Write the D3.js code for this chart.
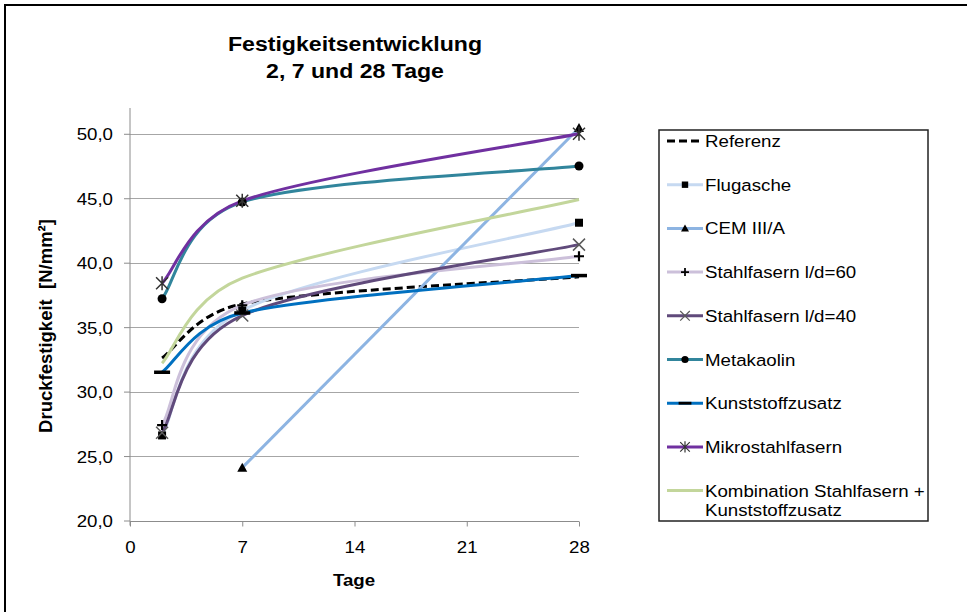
<!DOCTYPE html>
<html><head><meta charset="utf-8">
<script src="https://cdn.jsdelivr.net/npm/d3@7"></script>
<style>
html,body{margin:0;padding:0;background:#fff;}
svg{display:block;font-family:"Liberation Sans",Arial,sans-serif;}
</style></head>
<body>
<svg id="chart" width="967" height="612"></svg>
<script>
// ---- data ----
const days = [2, 7, 28];
const xTicks = [0, 7, 14, 21, 28];
const yTicks = [20, 25, 30, 35, 40, 45, 50];
const seriesNames = ["Referenz", "Flugasche", "CEM III/A", "Stahlfasern l/d=60", "Stahlfasern l/d=40",
  "Metakaolin", "Kunststoffzusatz", "Mikrostahlfasern", "Kombination Stahlfasern +|Kunststoffzusatz"];
const referenz = [32.6, 36.8, 38.9];
const flugasche = [26.6, 36.3, 43.1];
const cem3a = [null, 24.1, 50.45];
const stahl60 = [27.4, 36.7, 40.5];
const stahl40 = [26.8, 35.9, 41.4];
const metakaolin = [37.2, 44.7, 47.5];
const kunststoff = [31.5, 36.1, 39.0];
const mikro = [38.4, 44.8, 50.0];
const kombination = [32.2, 38.8, 44.9];
const seriesValues = [referenz, flugasche, cem3a, stahl60, stahl40, metakaolin, kunststoff, mikro, kombination];

// ---- styles ----
const colors = ["#000000", "#c6d9f1", "#8db4e2", "#ccc0da", "#604a7b", "#31859c", "#0070c0", "#7030a0", "#c3d69b"];
const dashes = ["8,4", null, null, null, null, null, null, null, null];
const markers = [null, "square", "triangle", "plus", "x", "circle", "dash", "asterisk", null];

const svg = d3.select("#chart");
const SX = 1.1; // horizontal text stretch of the reference

function txt(g, x, yv, s, opts) {
  return g.append("text")
    .attr("transform", `translate(${x},${yv}) scale(${SX},1)`)
    .attr("font-size", opts.size || 17)
    .attr("font-weight", opts.bold ? "bold" : "normal")
    .attr("text-anchor", opts.anchor || "start")
    .attr("fill", "#000")
    .text(s);
}

// outer frame
svg.append("rect").attr("x", 5).attr("y", 5).attr("width", 1000).attr("height", 1000)
  .attr("fill", "none").attr("stroke", "#000").attr("stroke-width", 2);

const x = d3.scaleLinear().domain([0, 28]).range([130, 579]);
const y = d3.scaleLinear().domain([20, 52]).range([520.5, 108]);

// gridlines
svg.append("g").selectAll("line").data(yTicks.filter(d => d > 20)).join("line")
  .attr("x1", x(0)).attr("x2", x(28)).attr("y1", d => Math.round(y(d)) + 0.5).attr("y2", d => Math.round(y(d)) + 0.5)
  .attr("stroke", "#a6a6a6").attr("stroke-width", 1);

// y axis
const yAxis = d3.axisLeft(y).tickValues(yTicks).tickSize(6).tickFormat(d => d3.format(".1f")(d).replace(".", ","));
const gy = svg.append("g").attr("transform", `translate(${x(0)},0)`).call(yAxis);
gy.select(".domain").attr("stroke", "#8c8c8c").attr("d", `M0,${y(52)}V${y(20) + 5}`);
gy.selectAll(".tick line").attr("stroke", "#8c8c8c");
gy.selectAll(".tick text").attr("font-size", 17).attr("fill", "#000")
  .attr("font-family", "Liberation Sans, Arial, sans-serif")
  .attr("x", -17 / SX).attr("dy", "0.35em")
  .attr("transform", `scale(${SX},1)`);

// x axis
const xAxis = d3.axisBottom(x).tickValues(xTicks).tickSize(5).tickFormat(d3.format("d"));
const gx = svg.append("g").attr("transform", `translate(0,${Math.round(y(20)) + 0.5})`).call(xAxis);
gx.select(".domain").attr("stroke", "#8c8c8c").attr("d", `M${x(0)},0H${x(28)}`);
gx.selectAll(".tick line").attr("stroke", "#8c8c8c");
gx.selectAll(".tick text").attr("font-size", 17).attr("fill", "#000")
  .attr("font-family", "Liberation Sans, Arial, sans-serif").attr("y", 19).attr("dy", "0.71em")
  .attr("transform", `scale(${SX},1)`);

// marker painter
function drawMarker(g, type, cx, cy, s) {
  s = s || 1;
  const m = g.append("g").attr("transform", `translate(${cx},${cy}) scale(${s})`);
  if (type === "square") m.append("path").attr("d", "M-4,-4h8v8h-8z").attr("fill", "#000");
  else if (type === "triangle") m.append("path").attr("d", "M0,-5L5,4H-5Z").attr("fill", "#000");
  else if (type === "plus") m.append("path").attr("d", "M-5,0H5M0,-5V5").attr("stroke", "#000").attr("stroke-width", 2.2);
  else if (type === "x") m.append("path").attr("d", "M-6,-6L6,6M-6,6L6,-6").attr("stroke", "#5a5a5a").attr("stroke-width", 1.5);
  else if (type === "circle") m.append("circle").attr("r", 4.5).attr("fill", "#000");
  else if (type === "dash") m.append("path").attr("d", "M-8,0H8").attr("stroke", "#000").attr("stroke-width", 3.5);
  else if (type === "asterisk") m.append("path").attr("d", "M-6,-6L6,6M-6,6L6,-6M0,-7V7").attr("stroke", "#333").attr("stroke-width", 1.5);
}

// Excel-like smoothed line through pixel points (positions come from the scales)
function excelSmooth(pts) {
  const n = pts.length;
  if (n === 0) return "";
  let d = `M${pts[0][0]},${pts[0][1]}`;
  if (n === 1) return d;
  if (n === 2) return d + `L${pts[1][0]},${pts[1][1]}`;
  const P = i => pts[Math.max(0, Math.min(n - 1, i))];
  const dist = (a, b) => Math.hypot(a[0] - b[0], a[1] - b[1]);
  for (let i = 0; i < n - 1; i++) {
    const p0 = P(i - 1), p1 = P(i), p2 = P(i + 1), p3 = P(i + 2);
    const d12 = dist(p1, p2), d02 = dist(p0, p2), d13 = dist(p1, p3);
    let f1 = 1 / 6, f2 = 1 / 6;
    if (d02 / 6 > d12 / 2) f1 = d12 / (2 * d02);
    if (d13 / 6 > d12 / 2) f2 = d12 / (2 * d13);
    const c1 = [p1[0] + (p2[0] - p0[0]) * f1, p1[1] + (p2[1] - p0[1]) * f1];
    const c2 = [p2[0] - (p3[0] - p1[0]) * f2, p2[1] - (p3[1] - p1[1]) * f2];
    d += `C${c1[0]},${c1[1]},${c2[0]},${c2[1]},${p2[0]},${p2[1]}`;
  }
  return d;
}

const plot = svg.append("g");
seriesValues.forEach((vals, i) => {
  const pts = days.map((t, j) => vals[j] == null ? null : [x(t), y(vals[j])]).filter(p => p);
  plot.append("path")
    .attr("d", excelSmooth(pts))
    .attr("fill", "none")
    .attr("stroke", colors[i])
    .attr("stroke-width", 3)
    .attr("stroke-dasharray", dashes[i])
    .attr("stroke-linejoin", "round");
});
seriesValues.forEach((vals, i) => {
  if (!markers[i]) return;
  days.forEach((t, j) => {
    if (vals[j] == null) return;
    drawMarker(plot, markers[i], x(t), y(vals[j]), 1);
  });
});

// titles
txt(svg, 355, 51, "Festigkeitsentwicklung", { size: 21, bold: true, anchor: "middle" });
txt(svg, 355, 78, "2, 7 und 28 Tage", { size: 21, bold: true, anchor: "middle" });
txt(svg, 354, 586, "Tage", { size: 17, bold: true, anchor: "middle" });
svg.append("text")
  .attr("transform", "translate(52,326) rotate(-90)")
  .attr("text-anchor", "middle").attr("font-size", 18.5).attr("font-weight", "bold")
  .style("white-space", "pre")
  .text("Druckfestigkeit  [N/mm²]");

// legend
const lg = svg.append("g");
lg.append("rect").attr("x", 659).attr("y", 130).attr("width", 269).attr("height", 391)
  .attr("fill", "#fff").attr("stroke", "#222").attr("stroke-width", 1.5);
const ly0 = 141, lstep = 43.7;
seriesNames.forEach((name, i) => {
  const cy = ly0 + i * lstep;
  lg.append("line").attr("x1", 667).attr("x2", 703).attr("y1", cy).attr("y2", cy)
    .attr("stroke", colors[i]).attr("stroke-width", 3).attr("stroke-dasharray", dashes[i]);
  if (markers[i]) drawMarker(lg, markers[i], 685, cy, 0.8);
  const parts = name.split("|");
  parts.forEach((p, k) => txt(lg, 705, cy + 6 + k * 19, p, { size: 17 }));
});
</script>
</body></html>
